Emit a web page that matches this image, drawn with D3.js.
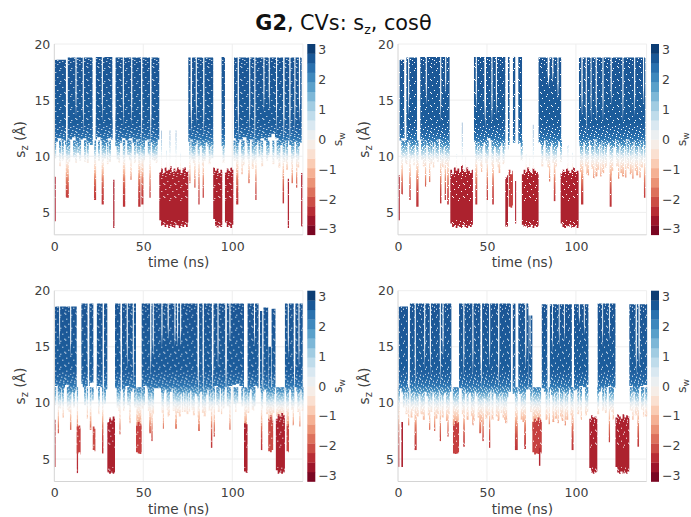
<!DOCTYPE html>
<html>
<head>
<meta charset="UTF-8">
<title>G2, CVs: sz, cos theta</title>
<style>
  html, body { margin:0; padding:0; background:#fff; }
  svg { display:block; }
  text { font-family:"DejaVu Sans", sans-serif; fill:#404040; }
</style>
<script src="https://cdn.jsdelivr.net/npm/d3@7"></script>
</head>
<body>
<svg width="691" height="517"></svg>
<script>
// every array below is read off the picture
// blocks: [tStart, tEnd, szTop]   stretches where the blue cloud exists
// edge: lower limit of the solid blue, one value per 2 ns (t = 0, 2, 4 ...)
// fringe: lower limit of the sparse dots, one value per 2 ns (t = 1, 3, 5 ...)
// slits: [t, halfWidth, szDepth]  white cuts coming down from the top
// tails: [t, szLow, width]        thin runs below the cloud
// sparks: [t, szLow, szTop]       faint dots above a red stretch
// wells: [tStart, tEnd, sw, tops per ns, lows per ns]   dense red stretches
var xTicks = [0, 50, 100];
var yTicks = [5, 10, 15, 20];
var cbarTicks = [-3, -2, -1, 0, 1, 2, 3];
var szKnots = [20, 13, 12, 11.5, 11, 10.5, 10, 9.5, 9, 8.5, 8, 7, 6, 3];
var swKnots = [2.75, 2.65, 2.5, 2.3, 1.9, 1.2, 0.4, -0.2, -0.7, -1.1, -1.6, -2.1, -2.3, -2.5];

var blocksA = [[0.4,6.6,18.6],[7.4,21.6,18.8],[23.2,32.8,18.85],[34.3,59,18.8],[75.3,89.3,18.8],[94,95.9,18.85],[101,139,18.8]];
var edgeA = [11.3,11.6,11.4,11.0,11.5,11.7,11.2,11.5,11.6,11.2,11.0,11.5,11.7,11.4,11.2,11.6,11.5,10.9,11.2,11.6,11.4,11.6,11.2,11.5,11.0,11.4,11.5,11.2,11.0,11.5,
  null,null,null,null,null,null,null,null,11.5,11.0,11.4,10.9,11.2,10.9,11.1,null,null,10.9,null,null,
  11.6,11.2,11.5,11.7,11.2,11.5,11.0,11.3,11.6,11.4,11.7,12.0,11.6,11.0,11.2,11.4,11.0,11.3,10.9,11.2];
var fringeA = [9.8,10.2,9.6,10.4,9.5,9.9,10.3,9.6,10.1,9.4,9.9,10.3,9.6,10.2,9.8,9.5,10.3,9.7,9.4,9.9,10.1,9.6,9.4,10.2,9.8,9.5,10.1,9.7,9.6,10,
  null,null,null,null,null,null,null,null,9.7,9.4,10,9.2,9.6,9.3,9.8,null,null,9.4,null,null,
  9.6,9,9.8,9.2,9.7,8.9,9.5,9.9,9.1,9.6,10.1,9.3,9.7,9,9.5,8.8,9.3,9.8,9,9.4];
var slitsA = [[7,0.45,10.6],[12.2,0.3,13.5],[16.3,0.3,12],[22.4,0.8,10.6],[27,0.3,13],[33.5,0.8,11],[38.8,0.3,12.7],[43.5,0.3,12.7],[49.1,0.35,10.9],[54.2,0.4,11],[77,0.4,12],[79.8,0.3,12.7],[84,0.35,11.8],[103.4,0.35,11.4],[109.8,0.3,12],[112.7,0.3,10.6],[117.8,0.3,14],[120.8,0.3,14],[124.9,0.3,12],[129,0.4,11.2],[132.4,0.35,10.9],[135.2,0.3,12],[137.8,0.35,13]];
var tailsA = [[3.2,9.1,0.9],[7.3,6.3,1.7],[12.2,9.4,1],[17.3,9.5,1],[22.9,6.1,1.2],[27.2,5.7,1.2],[30,9.3,0.9],[39.2,5.5,1.3],[43.1,7.9,0.7],[47.8,5.5,1.3],[49.5,5.7,1.2],[53.8,6.3,0.7],[57.5,9.4,1],[76.2,7.6,0.7],[79,7.2,0.7],[81.3,5.7,0.7],[83.7,6.3,0.7],[102.8,5.7,1.2],[105.5,8.4,0.7],[109.4,7.6,0.8],[113.3,6.1,0.7],[128.7,5.8,0.8],[133.7,7.6,0.8],[136.2,7.2,0.7]];
var sparksA = [[60.3,8.6,12.3],[65,8.6,12.3],[68.4,8.6,12.3],[63,8.6,10.5],[71,8.6,10.3]];
var wellsA = [
  [0.1,0.8,-2.5,[8.2],[4.2]],
  [33.1,33.8,-2.55,[7.9],[3.6]],
  [59,75.3,-2.55,[8.6,8.9,8.5,9,8.7,8.8,9.1,8.6,8.9,8.7,9,8.8,8.5,8.9,9,8.6,8.7],[4.3,3.8,3.9,3.7,3.9,3.6,3.8,3.7,3.6,3.9,3.8,3.6,3.8,3.7,3.9,3.7,4.1]],
  [89.3,94.4,-2.55,[9,8.7,8.9,8.5,8.8,8.6],[4.4,3.8,3.6,3.8,3.7,3.9]],
  [95.9,100.6,-2.55,[8.6,8.9,8.7,9,8.8],[4.1,3.7,3.8,3.6,3.9]],
  [131.2,131.9,-2.5,[8],[3.6]],
  [138.7,139.4,-2.5,[8.5],[3.7]]
];

var blocksB = [[0.9,3.8,18.6],[4.7,10.7,18.8],[12.5,29,18.85],[42.7,60.3,18.85],[61.8,62.7,18.85],[64.6,65.9,18.85],[67.6,69.7,18.85],[79,91.7,18.8],[101.7,139,18.8]];
var edgeB = [11.4,11.6,11.2,11.4,11.0,11.2,11.5,11.4,11.0,11.3,11.2,11.5,10.8,10.9,11.2,11.5,11.3,10.8,11.4,null,null,
  null,11.3,10.9,11.2,11.6,11.4,10.8,10.9,11.2,10.6,11,11.2,11.0,11.2,null,null,null,null,11.2,11.0,11.4,10.9,11.2,10.8,11.3,null,null,null,null,null,
  10.9,11.2,11.4,11.0,11.5,11.1,11.3,10.9,11.2,10.8,11.4,11.1,10.9,11.5,11.0,11.3,10.9,11.4,11.0];
var fringeB = [9.5,9.9,9.3,9.8,10.1,9.4,9.7,9.1,9.6,9.3,9.8,9.5,9,9.3,9.6,9.9,9.2,9.5,9.7,null,null,
  null,9.6,9,9.4,9.8,9.2,9.5,9,9.3,8.9,9.4,9.7,9.2,9.6,null,null,null,null,9.5,9.1,9.6,9,9.4,9.1,9.5,null,null,null,null,null,
  8.6,9.1,8.4,8.9,8.2,8.8,8.5,9,8.3,8.7,9.1,8.5,8.2,8.9,8.4,8.7,8.3,9,8.6];
var slitsB = [[3.9,0.4,11.2],[6,0.3,13.5],[15.9,0.3,14.5],[24,0.3,13],[26.8,0.3,15.5],[44,0.3,14],[49,0.45,12.5],[52.8,0.3,12.8],[55.3,0.3,13.5],[84.6,0.5,16.2],[87,0.3,16.5],[89.9,0.3,15],[103.4,0.35,13.5],[105.8,0.3,12],[108.5,0.25,13],[111.4,0.3,13],[115.2,0.3,13],[119.8,0.3,14.5],[126.4,0.3,13],[133,0.3,13.5],[138,0.3,14.5]];
var tailsB = [[2.3,6.6,0.9],[4.5,9.4,0.8],[6.75,6.1,0.8],[9,9.2,0.7],[10.9,5.5,1.3],[15.5,7.3,0.7],[17.8,7.7,0.7],[20,9,0.8],[24,5.8,0.8],[26.6,6.1,0.7],[28.1,5.7,0.9],[44,5.7,1.1],[47,8.6,0.7],[50.2,6.1,0.7],[53.4,5.7,0.9],[57,8.5,0.9],[85.2,7.75,0.7],[88,6,0.9],[103.5,5.7,1.3],[107,8.3,0.7],[110,8,0.7],[114,8.2,0.7],[119.5,5.5,1.1],[124,8,0.7],[128,8.1,0.7],[132,8,0.7],[136,8.1,0.7],[138.6,6.3,0.8]];
var sparksB = [[36.1,8.6,13],[33,8.6,10.2],[38,8.6,10],[76,8.6,12.8],[74,8.6,10],[72,8.6,10.2],[95.5,8.6,11],[98,8.6,10.3]];
var wellsB = [
  [0.3,1,-2.5,[8.3],[4.3]],
  [29.4,42.1,-2.55,[8.8,8.4,9,8.7,8.9,8.6,9.2,8.8,8.6,9,8.7,8.5,8.8],[4,3.7,3.8,3.6,3.8,3.7,3.6,3.9,3.7,3.6,3.8,3.7,3.9]],
  [60.3,61.8,-2.55,[8.1,8.3],[3.75,3.75]],
  [62.2,64.6,-2.2,[8.8,8.4,8.7],[5.5,5.4,5.6]],
  [65.8,66.4,-2.5,[7.8],[4]],
  [69.6,79,-2.55,[8.4,8.8,8.6,9,8.7,8.5,8.9,8.7,8.6,8.4],[3.9,3.7,3.8,3.6,3.7,3.9,3.6,3.8,3.7,3.8]],
  [91.4,101.5,-2.55,[8.5,8.8,8.6,8.9,8.7,8.5,8.8,9,8.6,8.7,8.5],[4,3.7,3.6,3.8,3.7,3.9,3.6,3.7,3.8,3.6,3.8]]
];

var blocksC = [[0.4,12.6,18.6],[15.2,18.8,18.85],[19.6,22,18.85],[23.8,27.2,18.85],[27.9,29.8,18.85],[34.1,37.3,18.85],[38,45.9,18.85],[49.1,106.6,18.85],[108.6,114.8,18.85],[115.6,117,18.2],[117.4,120.2,18.5],[120.3,121.8,15],[122.1,124.3,18.4],[129.6,139.6,18.85]];
var edgeC = [11.5,11.1,11.3,11.6,10.8,11.0,11.2,11.7,11.4,11.5,11.8,11.2,11.5,11.4,11.2,null,null,11.3,11.0,11.2,11.5,11.0,11.3,null,
  11.2,11.5,11.3,10.9,null,null,10.9,11.2,11.0,11.3,11.1,10.8,11.0,10.9,11.1,10.8,10.6,11.0,10.7,11.2,11.1,11.5,11.3,11.2,11.4,11.5,11.6,11.7,11.5,null,
  10.9,11.2,11.5,11.3,11.0,11.2,11.1,10.8,null,null,null,11.0,11.2,11.4,11.0,11.2];
var fringeC = [9.8,9.5,9.9,9.4,9.2,9.6,10,9.5,9.8,10.1,10.2,9.4,9.7,9.5,9.9,null,null,9.6,9.3,9.5,9.8,9.2,9.6,null,
  9.5,9.8,9.3,9,null,null,9.1,9.4,8.9,9.3,9.1,8.8,9.2,9,9.4,8.9,8.7,9.1,8.8,9.3,9.4,9.8,9.2,9.5,9.7,9.6,9.9,10,9.7,null,
  9.1,9.4,9.7,9.2,9.5,9,9.4,9.1,null,null,null,9.2,9.4,9.6,9.2,9.3];
var slitsC = [[3,0.25,15],[9.2,0.3,14],[19.2,0.4,11.2],[23,0.8,11],[27.6,0.3,11.5],[37.6,0.35,13.5],[41,0.3,13],[44.4,0.3,11.5],[54.2,0.35,12.3],[55.6,0.3,14],[60.5,0.3,15],[64,0.3,15.6],[67.8,0.3,15],[69.3,0.3,15],[71,0.3,15],[80.9,0.45,10.6],[83.7,0.35,10.3],[89,0.45,10.6],[92,0.3,13],[96.5,0.45,10.6],[98.7,0.3,15.3],[112.5,0.3,15],[117.2,0.25,12],[131.5,0.3,14],[135,0.45,10.6],[137.5,0.3,13]];
var tailsC = [[2.3,7.3,0.7],[5,8.7,0.8],[9.2,7.6,0.8],[13,3.75,0.7],[18.6,8.6,0.7],[20.4,7.6,0.9],[25,9,0.7],[27.2,5.5,0.8],[36.9,7.2,0.6],[39,9.3,0.8],[42.5,8.2,0.7],[47.5,8,2.8],[53.8,7.3,1],[54.9,6.6,0.7],[61.3,7.7,0.6],[64,8.8,0.7],[68.4,7.7,1],[72,9.2,0.7],[76,9.2,0.7],[81.3,7.5,1],[85,9.1,0.7],[88.4,6,0.8],[89.9,7,0.7],[94,9,0.7],[98.7,7.6,0.7],[102,9.2,0.7],[107.5,8,1.5],[112,9.3,0.7],[116.5,5.8,0.8],[121.5,8.4,2.5],[127,8.8,4.6],[131.2,8,1.4],[134.3,8,0.7],[138,7.9,0.6]];
var sparksC = [];
var wellsC = [
  [0.1,0.7,-2.4,[8.5],[4.3]],
  [12.6,14.8,-2.2,[7.9,8,7.8],[5.5,5.6,5.4]],
  [21.6,23.1,-2.1,[7.9,7.7],[5.8,5.7]],
  [29.8,34.1,-2.55,[8.3,8.7,8.5,8.8,8.6],[3.8,3.7,3.75,3.7,3.8]],
  [45.9,49.1,-2.2,[8,8.3,8.1,8],[5.6,5.5,5.45,5.6]],
  [106.6,108.6,-2.55,[8.2,8.1],[3.9,3.75]],
  [120.2,123,-2.1,[8.6,8.9,8.5],[5.7,5.6,5.8]],
  [124.5,129.6,-2.55,[8.6,9,8.8,9.1,8.9,8.6],[4,3.7,3.8,3.7,3.8,4.1]],
  [130.5,131.9,-2.1,[8,8.1],[5.7,5.6]]
];

var blocksD = [[0.4,5.6,18.6],[6.6,30,18.85],[34.3,63.5,18.85],[64.4,66,18.85],[67.6,73.3,18.85],[73.3,75.5,17.8],[80.8,84,18.8],[85.3,97.7,18.8],[98.9,107,18.8],[112.2,122.2,18.85],[130,140,18.8]];
var edgeD = [11.3,10.9,11.0,11.3,11.0,10.6,10.8,11.0,10.6,11.0,10.8,11.1,10.7,10.9,11.0,11.2,null,null,11.2,10.8,10.9,11.0,10.6,10.5,10.4,11.0,11.2,10.8,10.6,10.9,10.5,11.0,10.8,11.0,10.8,11.0,11.2,11.4,null,null,
  null,11.0,11.2,10.7,11.0,11.3,11.0,10.8,11.2,11.1,11.2,11.5,11.4,11.6,null,null,11.0,11.3,11.4,11.5,11.4,null,null,null,null,11.5,11.0,11.3,11.5,11.6];
var fringeD = [9.2,9.6,9,8.7,9.3,8.8,9,8.5,8.9,9.2,8.6,9,8.7,8.4,9,8.6,null,null,9,8.5,8.8,8.4,8.7,8.3,8.6,8.9,8.5,8.8,8.4,8.7,8.2,8.7,8.4,8.8,8.5,8.3,8.9,9.2,null,null,
  null,8.5,8.9,8.3,8.6,8.8,8.4,8.5,8.9,8.7,9,9.4,8.9,9.2,null,null,9,9.3,9.1,9.4,9.2,null,null,null,null,9.3,8.9,9.2,9.4,8.8];
var slitsD = [[6.1,0.45,11],[9.7,0.3,11.2],[15,0.3,13],[18.2,0.3,12.5],[23.8,0.3,11.8],[25.3,0.3,14],[37,0.3,12.3],[42.1,0.3,12.3],[46.8,0.45,11.2],[51.5,0.3,13],[56.6,0.35,11.2],[63.9,0.45,10.6],[71.8,0.35,13],[74.2,0.25,14],[84.6,0.55,11],[86.8,0.25,14.5],[90.6,0.25,15],[93.5,0.25,15.5],[98.3,0.5,12],[101.9,0.3,17],[104.7,0.25,16],[115,0.25,15],[118.8,0.25,15.5],[133.9,0.35,12.5],[135.5,0.35,13]];
var tailsD = [[0.4,4.3,0.7],[6,8,0.7],[9.9,5.8,1.2],[13,9,0.8],[17.8,7.6,0.7],[20.6,7.5,0.7],[23.8,6.6,0.7],[28.1,7,0.7],[32.5,8,3.4],[37.1,6.1,0.9],[42.1,8,0.7],[46.2,7.3,1.1],[47.8,6.6,0.8],[51.5,6,0.7],[58,9.1,0.7],[60,8.5,0.7],[66.5,5.8,1.6],[71.4,5.9,1],[78,7.5,4.8],[85,8.1,0.7],[90,8.2,0.7],[94,8,0.7],[98.1,5.8,1.1],[103,8.5,0.7],[118.8,6.5,0.7],[121,8.5,0.7],[132,8.5,0.7],[135,6.1,0.9],[138,8.8,0.7]];
var sparksD = [];
var wellsD = [
  [1.9,2.8,-2.55,[8.3],[4.3]],
  [30.9,34.3,-2.2,[8,8.4,8.2,8.3],[5.5,5.45,5.5,5.6]],
  [75.5,80.8,-2.2,[8.3,8.6,8.4,8.7,8.5,8.3],[5.6,5.4,5.5,5.45,5.6,5.5]],
  [79.2,80,-2.5,[6],[4.4]],
  [107.5,112,-2.55,[8.6,8.9,8.7,8.8,8.6],[4.2,3.8,3.7,3.8,3.9]],
  [122.2,130,-2.55,[8.7,9,8.8,8.6,9,8.7,8.9,8.8,8.6],[4.3,3.8,3.7,3.9,3.7,3.8,3.7,3.9,3.7]]
];

var panelData = [
  {blocks:blocksA, edge:edgeA, fringe:fringeA, slits:slitsA, tails:tailsA, sparks:sparksA, wells:wellsA},
  {blocks:blocksB, edge:edgeB, fringe:fringeB, slits:slitsB, tails:tailsB, sparks:sparksB, wells:wellsB},
  {blocks:blocksC, edge:edgeC, fringe:fringeC, slits:slitsC, tails:tailsC, sparks:sparksC, wells:wellsC},
  {blocks:blocksD, edge:edgeD, fringe:fringeD, slits:slitsD, tails:tailsD, sparks:sparksD, wells:wellsD}
];

var svg = d3.select("svg");
var defs = svg.append("defs");
defs.append("filter").attr("id", "soft")
    .attr("x", "-5%").attr("y", "-5%").attr("width", "110%").attr("height", "110%")
  .append("feGaussianBlur").attr("stdDeviation", 0.4);

//... stipple tiles, white dots over the scatter so it reads as dots and not solid
function makeTile(id, w, h, dots) {
  var pat = defs.append("pattern").attr("id", id).attr("patternUnits", "userSpaceOnUse")
      .attr("width", w).attr("height", h);
  dots.forEach(function(d) {
    pat.append("rect").attr("x", d[0]).attr("y", d[1]).attr("width", 1).attr("height", 1).attr("fill", "#fff");
  });
}
makeTile("stipLight", 11, 13, [[1,2],[5,0],[8,4],[3,7],[10,9],[6,11],[0,10]]);
makeTile("stipMid", 11, 13, [[1,2],[5,0],[8,4],[3,7],[10,9],[6,11],[0,10],[3,3],[7,8],[9,1],[2,12],[5,5],[9,12],[0,6]]);
makeTile("stipHeavy", 11, 13, [[1,2],[5,0],[8,4],[3,7],[10,9],[6,11],[0,10],[3,3],[7,8],[9,1],[2,12],[5,5],[9,12],[0,6],[4,10],[7,2],[10,5],[2,0],[6,6],[1,8],[8,11],[4,1],[9,7],[3,11]]);

//... colour map, 20 bands between -3.2 and 3.2
var nBands = 20, swMax = 3.2;
var colour = function(sw) { return d3.interpolateRdBu((sw + swMax) / (2 * swMax)); };
var bands = d3.range(nBands).map(function(i) { return -swMax + i * 2 * swMax / nBands; });

var lefts = [54.3, 398, 54.3, 398];
var tops = [44, 44, 290.7, 290.7];
var plotW = 248.6, plotH = 190.8, barGap = 4.4, barW = 8;
var fringeShift = [-0.5, 0.3, -0.2, 0.6, -0.6, 0.1, 0.5];
// sz limits of the stippled layers: [top, bottom, tile]
var stipple = [[19.1,18.2,"stipMid"],[18.2,12.6,"stipLight"],[12.6,11.4,"stipMid"],[11.4,10.6,"stipHeavy"],[10.6,8.9,"stipHeavy"],[8.9,8.2,"stipMid"],[8.2,6,"stipLight"],[4.3,3.4,"stipMid"]];

panelData.forEach(function(p, i) {
  var g = svg.append("g").attr("transform", "translate(" + lefts[i] + "," + tops[i] + ")");
  var x = d3.scaleLinear().domain([0, 139.7]).range([0, plotW]);
  var y = d3.scaleLinear().domain([3, 20]).range([plotH, 0]);

  //... sz -> colour, as a gradient over the whole plot height
  var grad = defs.append("linearGradient").attr("id", "sz" + i)
      .attr("gradientUnits", "userSpaceOnUse")
      .attr("x1", 0).attr("x2", 0).attr("y1", y(20)).attr("y2", y(3));
  szKnots.forEach(function(s, k) {
    grad.append("stop").attr("offset", (20 - s) / 17).attr("stop-color", colour(swKnots[k]));
  });
  var szFill = "url(#sz" + i + ")";

  //... frame and grid
  g.selectAll(".gx").data(xTicks.slice(1)).enter().append("line")
      .attr("x1", x).attr("x2", x).attr("y1", 0).attr("y2", plotH)
      .attr("stroke", "#eeeeee");
  g.selectAll(".gy").data(yTicks.slice(0, 3)).enter().append("line")
      .attr("y1", y).attr("y2", y).attr("x1", 0).attr("x2", plotW)
      .attr("stroke", "#eeeeee");
  g.append("path").attr("d", "M0,0H" + plotW + "V" + plotH)
      .attr("fill", "none").attr("stroke", "#eeeeee");

  var marks = g.append("g").attr("filter", "url(#soft)")
      .attr("clip-path", null);
  // marks are masked so the white stipple does not wipe out the grid
  var ink = marks.append("g").attr("mask", "url(#inkmask" + i + ")");
  var mask = defs.append("mask").attr("id", "inkmask" + i)
      .attr("maskUnits", "userSpaceOnUse")
      .attr("x", -5).attr("y", -5).attr("width", plotW + 10).attr("height", plotH + 10);
  mask.append("rect").attr("x", -5).attr("y", -5).attr("width", plotW + 10).attr("height", plotH + 10).attr("fill", "#fff");

  //... blue cloud, one stepped area per block
  var cloud = d3.area().curve(d3.curveStepAfter)
      .x(function(d) { return x(d.t); })
      .y0(function(d) { return y(d.edge); })
      .y1(function(d) { return y(d.top); });
  ink.selectAll(".cloud").data(p.blocks).enter().append("path")
      .attr("fill", szFill)
      .attr("d", function(b) {
        var pts = [];
        p.edge.forEach(function(v, k) {
          var t = k * 2;
          if (t + 2 > b[0] && t < b[1]) {
            pts.push({t: Math.max(t, b[0]), edge: v == null ? 11.3 : v, top: b[2]});
          }
        });
        if (!pts.length) pts.push({t: b[0], edge: 11.3, top: b[2]});
        pts.push({t: b[1], edge: pts[pts.length - 1].edge, top: b[2]});
        return cloud(pts);
      });

  //... sparse dots under the cloud, only where a block is
  var fringeRuns = [];
  p.fringe.forEach(function(v, k) {
    var t = k * 2 + 1 + fringeShift[k % fringeShift.length];
    if (v != null && p.blocks.some(function(b) { return t > b[0] && t < b[1]; })) {
      fringeRuns.push([t, v, 1.1]);
    }
  });
  ink.selectAll(".tail").data(fringeRuns.concat(p.tails)).enter().append("rect")
      .attr("x", function(d) { return x(d[0] - d[2] / 2); })
      .attr("width", function(d) { return x(d[2]); })
      .attr("y", y(11.4))
      .attr("height", function(d) { return y(d[1]) - y(11.4); })
      .attr("fill", szFill);

  //... faint dots above the red stretches
  ink.selectAll(".spark").data(p.sparks).enter().append("rect")
      .attr("x", function(d) { return x(d[0]) - 0.4; })
      .attr("width", 0.8)
      .attr("y", function(d) { return y(d[2]); })
      .attr("height", function(d) { return y(d[1]) - y(d[2]); })
      .attr("fill", szFill).attr("opacity", 0.45);

  //... dense red stretches, stepped top and bottom
  var well = d3.area().curve(d3.curveStepAfter)
      .x(function(d) { return x(d.t); })
      .y0(function(d) { return y(d.low); })
      .y1(function(d) { return y(d.top); });
  ink.selectAll(".well").data(p.wells).enter().append("path")
      .attr("fill", function(d) { return colour(d[2]); })
      .attr("d", function(d) {
        var pts = d[3].map(function(v, k) {
          return {t: d[0] + k, top: v, low: d[4][k]};
        }).filter(function(q) { return q.t < d[1]; });
        var last = pts[pts.length - 1];
        pts.push({t: d[1], top: last.top, low: last.low});
        return well(pts);
      });

  //... stipple and white cuts go into the mask as holes
  stipple.forEach(function(s) {
    // black version of each tile punches the dots out of the ink
    mask.append("rect").attr("x", -5).attr("width", plotW + 10)
        .attr("y", y(s[0])).attr("height", y(s[1]) - y(s[0]))
        .attr("fill", "url(#" + s[2] + "K)");
  });
  mask.selectAll(".slit").data(p.slits).enter().append("path")
      .attr("fill", "#000")
      .attr("d", function(d) {
        var neck = d[2] + (19.3 - d[2]) * 0.35;
        return "M" + x(d[0] - d[1]) + "," + y(19.3) + "L" + x(d[0] + d[1]) + "," + y(19.3) +
               "L" + x(d[0] + d[1]) + "," + y(neck) + "L" + x(d[0]) + "," + y(d[2]) +
               "L" + x(d[0] - d[1]) + "," + y(neck) + "Z";
      });

  g.append("path").attr("d", "M0,0V" + plotH + "H" + plotW)
      .attr("fill", "none").attr("stroke", "#d4d4d4").attr("stroke-width", 1);

  //... axes
  var ax = g.append("g").attr("transform", "translate(0," + plotH + ")")
      .call(d3.axisBottom(x).tickValues(xTicks).tickSize(0).tickPadding(7));
  var ay = g.append("g")
      .call(d3.axisLeft(y).tickValues(yTicks).tickSize(0).tickPadding(4));
  [ax, ay].forEach(function(a) {
    a.select(".domain").remove();
    a.selectAll("text").style("font-size", "12.5px").style("font-family", '"DejaVu Sans"').attr("fill", "#404040");
  });
  g.append("text").attr("x", plotW / 2).attr("y", plotH + 32.5)
      .attr("text-anchor", "middle").style("font-size", "13.6px").text("time (ns)");
  var yl = g.append("text")
      .attr("transform", "translate(" + (-29) + "," + (plotH / 2) + ") rotate(-90)")
      .attr("text-anchor", "middle").style("font-size", "13.6px");
  yl.append("tspan").text("s");
  yl.append("tspan").attr("dy", 3).style("font-size", "10px").text("z");
  yl.append("tspan").attr("dy", -3).text(" (Å)");

  //... colour bar
  var bar = g.append("g").attr("transform", "translate(" + (plotW + barGap) + ",0)");
  var c = d3.scaleLinear().domain([-swMax, swMax]).range([plotH, 0]);
  bar.selectAll("rect").data(bands).enter().append("rect")
      .attr("x", 0).attr("width", barW)
      .attr("y", function(d) { return c(d + 2 * swMax / nBands); })
      .attr("height", plotH / nBands + 0.3)
      .attr("fill", function(d) { return colour(d + swMax / nBands); });
  var ac = bar.append("g").attr("transform", "translate(" + barW + ",0)")
      .call(d3.axisRight(c).tickValues(cbarTicks).tickSize(0).tickPadding(3).tickFormat(d3.format("d")));
  ac.select(".domain").remove();
  ac.selectAll("text").style("font-size", "12.5px").style("font-family", '"DejaVu Sans"').attr("fill", "#404040");
  var sl = bar.append("text")
      .attr("transform", "translate(" + (barW + 26.5) + "," + (plotH / 2) + ") rotate(-90)")
      .attr("text-anchor", "middle").style("font-size", "12.5px");
  sl.append("tspan").text("s");
  sl.append("tspan").attr("dy", 3).style("font-size", "9px").text("w");
});

//... black copies of the tiles, used inside the masks
["stipLight", "stipMid", "stipHeavy"].forEach(function(id) {
  var src = defs.select("#" + id);
  var kPat = defs.append("pattern").attr("id", id + "K").attr("patternUnits", "userSpaceOnUse")
      .attr("width", src.attr("width")).attr("height", src.attr("height"));
  src.selectAll("rect").each(function() {
    var r = d3.select(this);
    kPat.append("rect").attr("x", r.attr("x")).attr("y", r.attr("y"))
        .attr("width", 1).attr("height", 1).attr("fill", "#000");
  });
});

//... title
var title = svg.append("text").attr("x", 343.5).attr("y", 29.5)
    .attr("text-anchor", "middle").style("font-size", "20.8px").style("fill", "#111");
title.append("tspan").style("font-weight", "bold").text("G2");
title.append("tspan").text(", CVs: s");
title.append("tspan").attr("dy", 4).style("font-size", "12.5px").text("z");
title.append("tspan").attr("dy", -4).text(", cosθ");
</script>
</body>
</html>
